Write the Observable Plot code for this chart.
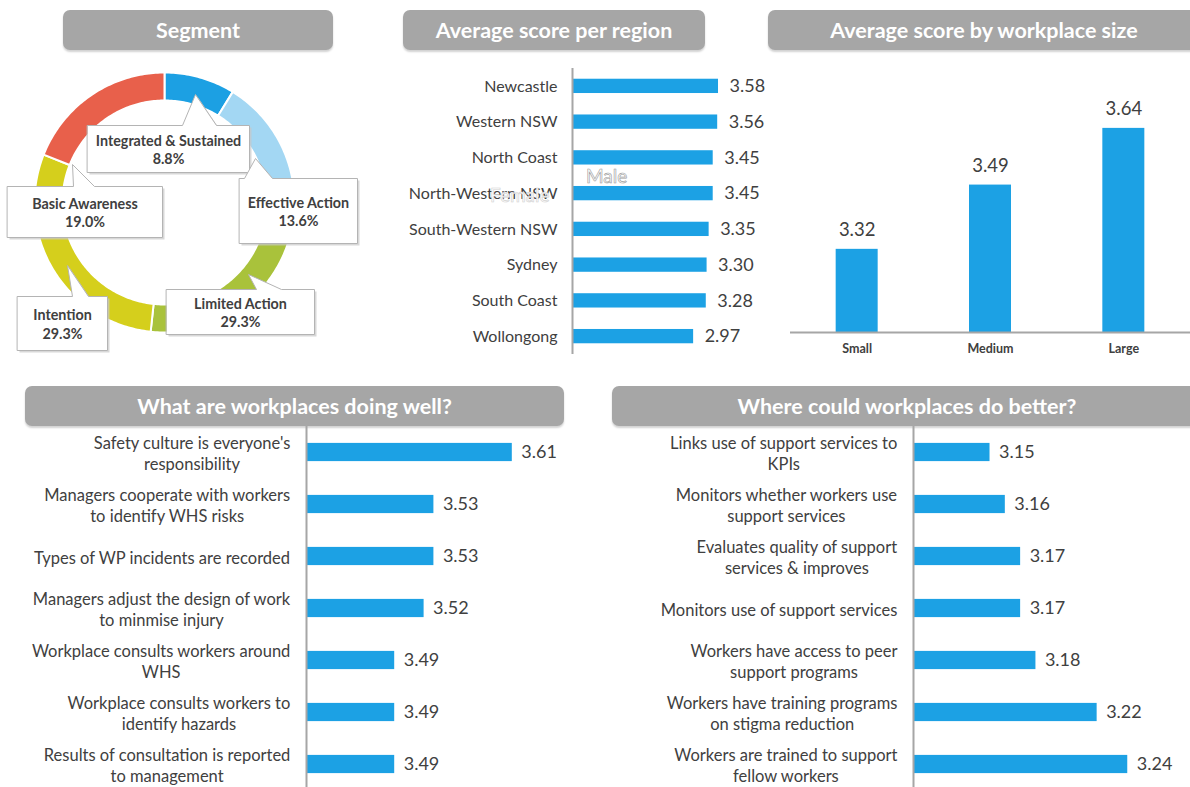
<!DOCTYPE html>
<html><head><meta charset="utf-8">
<script src="https://cdn.jsdelivr.net/npm/d3@7"></script>
<script src="https://cdn.jsdelivr.net/npm/@observablehq/plot@0.6"></script>
<style>
body{margin:0;background:#fff;overflow:hidden;font-family:Lato,"Open Sans",sans-serif;}
#root{position:relative;width:1190px;height:787px;overflow:hidden;}
.panel{position:absolute;}
.hdr{position:absolute;height:40px;background:#a6a6a6;border-radius:7px;color:#fff;font-weight:bold;font-size:21.5px;display:flex;align-items:center;justify-content:center;box-shadow:0 2px 2px rgba(0,0,0,0.18);}
.ghost{position:absolute;font-size:19px;color:#fff;font-family:Lato,sans-serif;}
</style></head><body><div id="root"></div>
<script>
// ---------- data ----------
const titles = ["Segment","Average score per region","Average score by workplace size","What are workplaces doing well?","Where could workplaces do better?"];

const segNames = ["Integrated & Sustained","Effective Action","Limited Action","Intention","Basic Awareness"];
const segShares = [8.8,13.6,29.3,29.3,19.0];
const segColors = ["#1ca0e3","#a3d7f3","#a9c23b","#d5cf1c","#e8604b"];

const regions = ["Newcastle","Western NSW","North Coast","North-Western NSW","South-Western NSW","Sydney","South Coast","Wollongong"];
const regionScores = [3.58,3.56,3.45,3.45,3.35,3.30,3.28,2.97];

const sizes = ["Small","Medium","Large"];
const sizeScores = [3.32,3.49,3.64];

const wellItems = ["Safety culture is everyone's\nresponsibility","Managers cooperate with workers\nto identify WHS risks","Types of WP incidents are recorded","Managers adjust the design of work\nto minmise injury","Workplace consults workers around\nWHS","Workplace consults workers to\nidentify hazards","Results of consultation is reported\nto management"];
const wellScores = [3.61,3.53,3.53,3.52,3.49,3.49,3.49];

const betterItems = ["Links use of support services to\nKPIs","Monitors whether workers use\nsupport services","Evaluates quality of support\nservices & improves","Monitors use of support services","Workers have access to peer\nsupport programs","Workers have training programs\non stigma reduction","Workers are trained to support\nfellow workers"];
const betterScores = [3.15,3.16,3.17,3.17,3.18,3.22,3.24];

// ---------- layout ----------
const BLUE = "#1ca1e4", TXT = "#404040", AX = "#a6a6a6";
const root = document.getElementById("root");
function place(el, left, top){ el.classList.add("panel"); el.style.left = left+"px"; el.style.top = top+"px"; root.appendChild(el); }

// headers
const hdrBoxes = [[63,10,270],[403,10,302],[768,10,432],[25,386,539],[612,386,590]];
titles.forEach((t,i)=>{ const d=document.createElement("div"); d.className="hdr"; d.textContent=t;
  d.style.left=hdrBoxes[i][0]+"px"; d.style.top=hdrBoxes[i][1]+"px"; d.style.width=hdrBoxes[i][2]+"px"; root.appendChild(d); });

// ---------- donut ----------
const cx=164, cy=202, R=130, r0=102;
let acc=0; const ringPts=[]; const shareText={};
segNames.forEach((name,i)=>{
  const a0=acc/100*2*Math.PI, a1=(acc+segShares[i])/100*2*Math.PI; acc+=segShares[i];
  shareText[name]=segShares[i].toFixed(1)+"%";
  const n=Math.max(2,Math.ceil((a1-a0)/(Math.PI/180)));
  for(let k=0;k<=n;k++){const a=a0+(a1-a0)*k/n; ringPts.push({name,color:segColors[i],x:cx+R*Math.sin(a),y:cy-R*Math.cos(a)});}
  for(let k=n;k>=0;k--){const a=a0+(a1-a0)*k/n; ringPts.push({name,color:segColors[i],x:cx+r0*Math.sin(a),y:cy-r0*Math.cos(a)});}
});
const calloutLayout = [
  {name:"Integrated & Sustained", box:[87,125,249,172], base:[182,216], apex:[195,94]},
  {name:"Effective Action", box:[239,178,357,243], base:[244,272], apex:[255,158]},
  {name:"Basic Awareness", box:[7,186,162,237], base:[73,94], apex:[72,164]},
  {name:"Limited Action", box:[166,289,314,334], base:[256,281], apex:[248,274]},
  {name:"Intention", box:[17,296,107,350], base:[72,88], apex:[67,265]}
];
const calloutPts=[];
calloutLayout.forEach(c=>{
  const [x0,y0,x1,y1]=c.box;
  [[x0,y0],[c.base[0],y0],c.apex,[c.base[1],y0],[x1,y0],[x1,y1],[x0,y1]].forEach(p=>calloutPts.push({name:c.name,x:p[0],y:p[1]}));
});
const calloutText = calloutLayout.map(c=>({x:(c.box[0]+c.box[2])/2, y:(c.box[1]+c.box[3])/2, t:c.name+"\n"+shareText[c.name]}));

const donut = Plot.plot({
  width:400, height:310, margin:0,
  x:{domain:[0,400], range:[0,400], axis:null},
  y:{domain:[55,365], range:[0,310], axis:null},
  color:{type:"identity"},
  style:{fontFamily:"Lato, sans-serif", background:"transparent"},
  marks:[
    Plot.line(ringPts,{x:"x",y:"y",z:"name",fill:"color",stroke:"#fff",strokeWidth:2,curve:"linear-closed"}),
    Plot.line(calloutPts,{x:"x",y:"y",z:"name",fill:"#c8c8c8",stroke:"none",curve:"linear-closed",dx:2,dy:2,fillOpacity:0.7}),
    Plot.line(calloutPts,{x:"x",y:"y",z:"name",fill:"#fff",stroke:"#b4b4b4",strokeWidth:1,curve:"linear-closed"}),
    Plot.text(calloutText,{x:"x",y:"y",text:"t",fontSize:14.3,fontWeight:"bold",fill:TXT,lineHeight:1.3})
  ]
});
place(donut,0,55);

// ---------- region ----------
const regionData = regions.map((k,i)=>({k,v:regionScores[i]}));
const region = Plot.plot({
  width:380, height:300, marginLeft:172, marginRight:0, marginTop:8, marginBottom:6,
  x:{domain:[0,5.1], axis:null},
  y:{domain:regions, paddingInner:0.6, paddingOuter:0.3, round:false, label:null},
  style:{fontFamily:"Lato, sans-serif", fontSize:"16px", color:TXT, background:"transparent"},
  marks:[
    Plot.axisY({tickSize:0, tickPadding:15, label:null}),
    Plot.barX(regionData,{x:"v",y:"k",fill:BLUE}),
    Plot.ruleX([0],{stroke:AX,strokeWidth:2}),
    Plot.text(regionData,{x:"v",y:"k",text:d=>d.v.toFixed(2),dx:11,textAnchor:"start",fontSize:18,fill:TXT})
  ]
});
place(region,400,60);
[["Male",586,164,"#9a9a9a"],["Female",490,183,"#d0d0d0"]].forEach(([t,l,tp,c])=>{const s=document.createElement("div");s.className="ghost";s.textContent=t;s.style.left=l+"px";s.style.top=tp+"px";s.style.webkitTextStroke="0.6px "+c;root.appendChild(s);});

// ---------- size ----------
const sizeData = sizes.map((k,i)=>({k,v:sizeScores[i]}));
const yMinSize = 3.1;
const size = Plot.plot({
  width:410, height:310, marginLeft:10, marginRight:0, marginTop:7.4, marginBottom:38,
  x:{domain:sizes, paddingInner:0.685, paddingOuter:0.3425, round:false, label:null},
  y:{domain:[yMinSize,3.8], axis:null},
  style:{fontFamily:"Lato, sans-serif", fontSize:"12.5px", color:TXT, background:"transparent"},
  marks:[
    Plot.axisX({tickSize:0, tickPadding:12, fontWeight:"bold", label:null}),
    Plot.barY(sizeData,{x:"k",y1:yMinSize,y2:"v",fill:BLUE}),
    Plot.ruleY([yMinSize],{stroke:AX,strokeWidth:2}),
    Plot.text(sizeData,{x:"k",y:"v",text:d=>d.v.toFixed(2),dy:-19,fontSize:18.5,fill:TXT})
  ]
});
place(size,780,60);

// ---------- doing well / do better ----------
const LABEL_FS = 16.5;
const ctx = document.createElement("canvas").getContext("2d");
ctx.font = LABEL_FS + "px Lato";
const blockWidth = s => Math.max(...s.split("\n").map(l => ctx.measureText(l).width));

function hbar(items, scores, xMin, xMax, mLeft, width){
  const data = items.map((k,i)=>({k,v:scores[i]}));
  const labelMarks = items.map(k => Plot.text([k], {
    x: () => xMin, y: d => d, text: d => d, textAnchor: "middle",
    dx: -(16 + blockWidth(k)/2), lineHeight: 1.33, fontSize: LABEL_FS, fill: TXT
  }));
  return Plot.plot({
    width, height:366, marginLeft:mLeft, marginRight:0, marginTop:0, marginBottom:2,
    x:{domain:[xMin,xMax], axis:null},
    y:{domain:items, paddingInner:0.65, paddingOuter:0.325, round:false, axis:null},
    style:{fontFamily:"Lato, sans-serif", fontSize:LABEL_FS+"px", color:TXT, background:"transparent"},
    marks:[
      ...labelMarks,
      Plot.barX(data,{x1:xMin,x2:"v",y:"k",fill:BLUE}),
      Plot.ruleX([xMin],{stroke:AX,strokeWidth:2}),
      Plot.text(data,{x:"v",y:"k",text:d=>d.v.toFixed(2),dx:9,textAnchor:"start",fontSize:18,fill:TXT})
    ]
  });
}
place(hbar(wellItems, wellScores, 3.4, 3.7, 306, 600), 0, 426);
place(hbar(betterItems, betterScores, 3.10, 3.281, 313, 590), 600, 426);
</script></body></html>
